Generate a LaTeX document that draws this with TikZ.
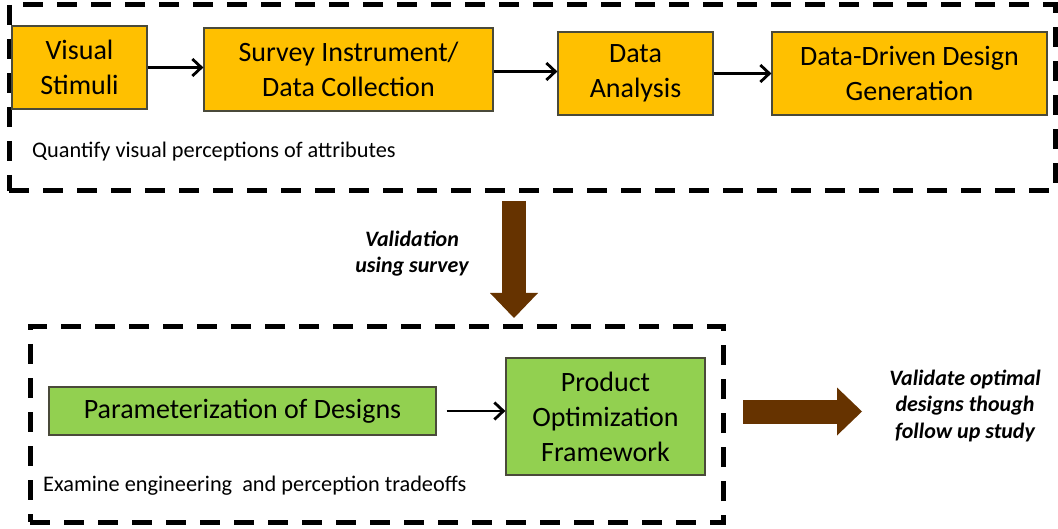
\documentclass[tikz,border=0pt]{standalone}
\usepackage{fontspec}
\setmainfont{Carlito}
\usetikzlibrary{arrows.meta}
\definecolor{ored}{HTML}{FFC000}
\definecolor{gfill}{HTML}{92D050}
\definecolor{edgec}{HTML}{4A4A3A}
\definecolor{brownc}{HTML}{663300}
\begin{document}
\begin{tikzpicture}[x=1pt,y=-1pt,
  orangebox/.style={draw=edgec, line width=1.2pt, fill=ored, inner sep=0pt, align=center,
    font=\fontsize{28pt}{35pt}\selectfont},
  greenbox/.style={draw=edgec, line width=1.2pt, fill=gfill, inner sep=0pt, align=center,
    font=\fontsize{28pt}{35pt}\selectfont},
  dashframe/.style={draw, line width=5pt, dash pattern=on 20pt off 14pt, inner sep=0pt},
  flow/.style={line width=2.8pt, -{Straight Barb[length=9pt,width=17pt]}},
  bigarrow/.style={draw=brownc, line width=24pt, -{Triangle[length=25pt,width=48pt,line width=0pt]}},
  note/.style={font=\fontsize{22.3pt}{27pt}\selectfont, inner sep=0pt, anchor=base west},
  remark/.style={font=\fontsize{22pt}{26.5pt}\selectfont\bfseries\itshape, inner sep=0pt, align=center, anchor=base}
]
\useasboundingbox (0,0) rectangle (1058,529);

% dashed frames around the two stages
\node (stageA) [dashframe, minimum width=1046pt, minimum height=186pt] at (532,98) {};
\node (stageB) [dashframe, minimum width=693pt, minimum height=195pt] at (376.5,424.5) {};

% first stage: perception study
\node (vs) [orangebox, minimum width=135pt, minimum height=83pt] at (79.5,67.5) {Visual\\Stimuli};
\node (si) [orangebox, minimum width=289pt, minimum height=83pt] at (348.5,69.5) {Survey Instrument/\\Data Collection};
\node (da) [orangebox, minimum width=155pt, minimum height=83pt] at (635.5,73.5) {Data\\Analysis};
\node (dd) [orangebox, minimum width=275pt, minimum height=83pt] at (909.5,73.5) {Data-Driven Design\\Generation};

\draw[flow] (vs.east) -- (vs.east -| si.west);
\draw[flow] ([yshift=-2pt]si.east) -- ([yshift=-2pt]si.east -| da.west);
\draw[flow] (da.east) -- (dd.west);

\node (qa) [note] at (32,158) {Quantify visual perceptions of attributes};

% transition between the stages
\coordinate (vtop) at (514,201);
\coordinate (vbot) at (514,318);
\draw[bigarrow] (vtop) -- (vbot);
\node (val) [remark] at (412,273) {Validation\\using survey};

% second stage: optimisation
\node (pd) [greenbox, minimum width=387pt, minimum height=48pt] at (242.5,411) {Parameterization of Designs};
\node (po) [greenbox, minimum width=199pt, minimum height=117pt] at (605.5,416.5) {Product\\Optimization\\Framework};
\draw[flow] ([xshift=10pt]pd.east) -- (pd.east -| po.west);

\node (ex) [note] at (43,491) {Examine engineering\ \ and perception tradeoffs};

% final validation step
\coordinate (hstart) at (743,411.5);
\coordinate (hend) at (862,411.5);
\draw[bigarrow] (hstart) -- (hend);
\node (fu) [remark] at (965,438) {Validate optimal\\designs though\\follow up study};
\end{tikzpicture}
\end{document}
